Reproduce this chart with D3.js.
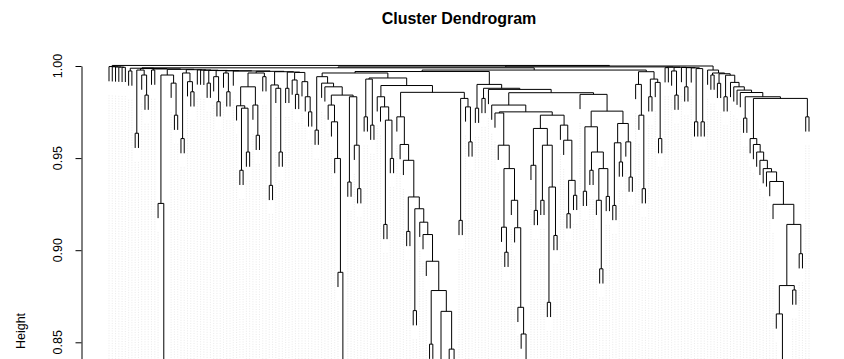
<!DOCTYPE html>
<html><head><meta charset="utf-8">
<script src="https://cdn.jsdelivr.net/npm/d3@7"></script>
<style>body{margin:0;background:#fff} svg{display:block}</style>
</head><body>
<svg id="chart" width="844" height="359"></svg>
<script>
// ---------------- data ----------------
const title = "Cluster Dendrogram";
const yAxisTitle = "Height";
const yTicks = [0.85, 0.90, 0.95, 1.00];
const L = 0; // a leaf
// node = [height, left, right]

// far-left leaves hanging from the very top
const leftLeafHeights = [0.9997, 0.9996, 0.9995, 0.9994, 0.9993];
const leftLeaves = [L, L, L, L, L, L];

// left group
const gB   = [0.9978, [0.9635, L, L], [0.9951, L, [0.9842, L, L]]];
const gD   = [0.9951, [0.9254, L, [0.800, L, [0.790, L, L]]], [0.9907, L, [0.9733, L, L]]];
const gE   = [0.9962, [0.9606, L, L], [0.9915, L, [0.9860, L, L]]];
const g209 = [0.9907, L, L];
const g217 = [0.9942, L, [0.9806, L, L]];
const g226 = [0.9962, L, [0.9860, L, L]];
const g250 = [0.9962, [0.9887, [0.9784, L, [0.9771, [0.9434, L, L], [0.9533, L, L]]], [0.9788, L, [0.9624, L, L]]], [0.9942, L, L]];
const g275 = [0.9897, [0.9352, L, L], [0.9879, L, [0.9533, L, L]]];
const g287 = [0.9879, L, L];
const g295 = [0.9924, L, [0.9846, L, L]];
const g305 = [0.9915, L, [0.9833, L, [0.9751, L, L]]];
const leftBlocks  = [[0.9973, L, L], gB, [0.9978, L, L], gD, gE, L, L, L, g209, g217, g226, L, g250, g275, g287, g295, g305];
const leftHeights = [0.9988, 0.9986, 0.9984, 0.9982, 0.9980, 0.9979, 0.9978, 0.9977, 0.9976, 0.9975, 0.9974, 0.9973, 0.9971, 0.9969, 0.9967, 0.9965];

// middle group
const X17 = [0.9788, L, [0.9697, L, [0.9498, L, [0.8880, L, [0.800, L, L]]]]];
const Y17 = [0.9833, [0.9370, L, L], [0.9570, L, [0.9334, L, L]]];
const C17 = [0.9907, L, [0.9887, L, [0.9842, X17, Y17]]];
const bM1 = [0.9942, [0.9652, L, L], C17];
const b368 = [0.9929, [0.9724, L, L], [0.9679, L, L]];
const M2left = [0.9833, L, [0.9778, L, [0.9706, [0.9140, L, L], [0.9498, L, L]]]];
const cascade = [0.9225, [0.8672, L, L], [0.9152, L, [0.9085, L, [0.8940, L, [0.8781, [0.8490, L, L], [0.8668, [0.790, [0.785, L, L], [0.780, L, L]], [0.8463, L, [0.780, L, L]]]]]]]];
const M2right = [0.9724, L, [0.9574, L, [0.9488, L, [0.9289, [0.9102, L, L], cascade]]]];
const b28 = [0.9824, [0.9162, L, L], [0.9778, L, [0.9588, L, L]]];
const MidA = [0.9894, M2left, [0.9857, M2right, b28]];
const Middle = [0.9962, bM1, [0.9935, b368, MidA]];

// right-middle group
const Sub502 = [0.9125, L, [0.8989, L, L]];
const Sub513 = [0.9271, L, [0.9122, L, [0.8690, L, [0.8545, L, [0.800, L, L]]]]];
const N113 = [0.9745, L, [0.9570, L, [0.9443, Sub502, Sub513]]];
const left538 = [0.9661, [0.9461, L, [0.9216, L, L]], [0.9570, [0.9271, L, L], [0.9343, [0.8717, L, L], [0.9080, L, L]]]];
const right561 = [0.9679, L, [0.9597, L, [0.9379, [0.9198, L, L], [0.9298, L, L]]]];
const N115 = [0.9733, left538, right561];
const N105 = [0.9788, L, [0.9751, N113, N115]];
const N126 = [0.9670, [0.9320, L, L], [0.9533, [0.9434, L, L], [0.9443, [0.9271, L, [0.8899, L, L]], [0.9292, L, L]]]];
const X621 = [0.9688, [0.9583, [0.9243, L, L], [0.9479, L, L]], [0.9588, L, [0.9397, L, L]]];
const N94 = [0.9846, L, [0.9755, N126, X621]];
const G = [0.9900, [0.9771, L, L], [0.9879, [0.9824, L, L], [0.9873, L, [0.9855, N105, N94]]]];
const C636 = [0.9900, L, [0.9733, L, [0.9334, L, L]]];
const C650 = [0.9929, [0.9833, L, L], [0.9911, L, [0.9606, L, L]]];

// small clusters near the top, right side
const smallBlocks  = [[0.9991, L, L], [0.9973, L, [0.9842, L, L]], L, [0.9887, L, L], L, [0.9986, [0.9697, L, L], [0.9697, L, L]]];
const smallHeights = [0.99935, 0.9993, 0.9992, 0.9991, 0.9990];

// right group
const C204 = [0.9249, L, [0.9140, [0.8808, [0.8654, L, [0.800, L, [0.790, L, [0.780, L, L]]]], [0.8784, L, L]], [0.8981, L, L]]];
const Casc = [0.9606, L, [0.9574, L, [0.9533, L, [0.9488, L, [0.9443, L, [0.9425, L, [0.9373, L, C204]]]]]]];
const S82 = [0.9911, L, [0.9887, L, [0.9869, L, [0.9856, L, [0.9833, [0.9717, L, L], [0.9824, Casc, [0.9724, L, L]]]]]]];
const Rgrp = [0.9978, L, [0.9962, [0.9951, L, L], [0.9958, [0.9906, L, L], [0.9950, [0.9833, L, L], S82]]]];

// top-level merge heights
const topHeights = { root: 1.0003, B: 1.0000, B1: 0.9995, B2: 0.9990, T4: 0.9978, MG: 0.9970, C6: 0.9969 };

// ---------------- build ----------------
function comb(heights, blocks) {
  let node = [heights[heights.length - 1], blocks[blocks.length - 2], blocks[blocks.length - 1]];
  for (let k = heights.length - 2; k >= 0; k--) node = [heights[k], blocks[k], node];
  return node;
}
const leftComb = comb(leftLeafHeights, leftLeaves);
const leftRest = comb(leftHeights, leftBlocks);
const smallPart = comb(smallHeights, smallBlocks);
const t = topHeights;
const T4 = [t.T4, [t.MG, Middle, G], [t.C6, C636, C650]];
const tree = [t.root, leftComb, [t.B, [t.B1, [t.B2, leftRest, T4], smallPart], Rgrp]];

const HANG = 0.008;
let nLeaves = 0;
const nodes = [], leafEnds = [];
function place(node) {
  if (!Array.isArray(node)) { return { x: nLeaves++, leaf: true }; }
  const h = node[0];
  const kids = node.slice(1).map(place);
  const tops = kids.map(k => k.leaf ? h - HANG : k.h);
  kids.forEach((k, j) => { if (k.leaf) leafEnds.push({ i: k.x, end: tops[j] }); });
  nodes.push({ h, kids, tops });
  return { x: (kids[0].x + kids[kids.length - 1].x) / 2, h };
}
place(tree);

// ---------------- draw ----------------
const W = 844, H = 359;
const svg = d3.select("#chart");
const n = nLeaves;
const x = d3.scaleLinear().domain([-0.04 * (n - 1), 1.04 * (n - 1)]).range([81, 837]);
const y = d3.scaleLinear().domain([0.85, 1.0]).range([342.3, 66]);

// leaf labels (tiny, rendered as faint dotted columns)
svg.append("g").selectAll("line").data(leafEnds).join("line")
  .attr("x1", d => x(d.i)).attr("x2", d => x(d.i))
  .attr("y1", d => y(d.end) + 14).attr("y2", H + 5)
  .attr("stroke", "#cfcfcf").attr("stroke-width", 0.45)
  .attr("stroke-dasharray", "1,1.5");

// merges
svg.append("g").selectAll("path").data(nodes).join("path")
  .attr("fill", "none").attr("stroke", "#000").attr("stroke-width", 1)
  .attr("d", d => {
    const k = d.kids, tp = d.tops;
    let p = `M${x(k[0].x)},${y(tp[0])}V${y(d.h)}H${x(k[k.length - 1].x)}V${y(tp[k.length - 1])}`;
    for (let j = 1; j < k.length - 1; j++) p += `M${x(k[j].x)},${y(d.h)}V${y(tp[j])}`;
    return p;
  });

// axis
const yAxisScale = d3.scaleLinear().domain([0.80, 1.0]).range([y(0.80), y(1.0)]);
const ax = svg.append("g").attr("transform", "translate(81.5,0)")
  .call(d3.axisLeft(yAxisScale).tickValues(yTicks).tickFormat("").tickSize(6).tickSizeOuter(0));
ax.select(".domain").attr("stroke", "#000");
ax.selectAll(".tick line").attr("stroke", "#000");

svg.append("g").selectAll("text").data(yTicks).join("text")
  .attr("transform", d => `translate(61.5,${y(d)}) rotate(-90)`)
  .attr("text-anchor", "middle")
  .attr("font-family", "Liberation Sans, Arial, sans-serif").attr("font-size", 12.5)
  .attr("fill", "#000")
  .text(d => d3.format(".2f")(d));

svg.append("text")
  .attr("transform", "translate(24.5,331) rotate(-90)")
  .attr("text-anchor", "middle")
  .attr("font-family", "Liberation Sans, Arial, sans-serif").attr("font-size", 12.5)
  .text(yAxisTitle);

svg.append("text")
  .attr("x", 459).attr("y", 24)
  .attr("text-anchor", "middle")
  .attr("font-family", "Liberation Sans, Arial, sans-serif").attr("font-size", 16).attr("font-weight", "bold")
  .text(title);
</script>
</body></html>
